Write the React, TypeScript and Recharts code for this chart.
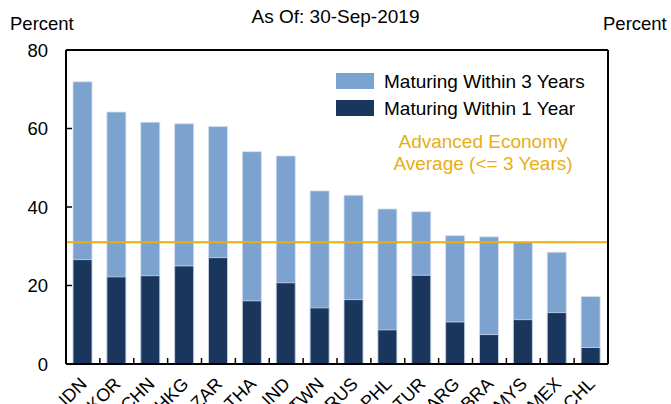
import { ComposedChart, Bar, XAxis, YAxis, ReferenceLine } from 'recharts';

const countries = ['IDN', 'KOR', 'CHN', 'HKG', 'ZAR', 'THA', 'IND', 'TWN', 'RUS', 'PHL', 'TUR', 'ARG', 'BRA', 'MYS', 'MEX', 'CHL'];
const within3Years = [71.9, 64.2, 61.6, 61.2, 60.5, 54.1, 53.0, 44.1, 43.0, 39.5, 38.8, 32.7, 32.4, 31.0, 28.5, 17.2];
const within1Year = [26.6, 22.2, 22.5, 25.0, 27.1, 16.1, 20.7, 14.3, 16.4, 8.7, 22.6, 10.7, 7.5, 11.3, 13.1, 4.2];
const advancedAverage = 31;
const yTicks = [0, 20, 40, 60, 80];

const data = countries.map((c, i) => ({ country: c, y3: within3Years[i], y1: within1Year[i] }));

const LIGHT = '#7CA2D0';
const DARK = '#1B365D';
const GOLD = '#E8AE14';
const FONT = '"Liberation Sans", Arial, sans-serif';

const W = 671;
const H = 404;
const LEFT_W = 66;
const RIGHT_W = 63;
const band = (W - LEFT_W - RIGHT_W) / countries.length;

const LeftTick = (props: any) => {
    const { x, y, payload } = props;
    return (
        <g>
            {payload.value > 0 && payload.value < 80 && (
                <line x1={x} x2={x + 6} y1={y} y2={y} stroke="#000" strokeWidth={1.5} />
            )}
            <text x={x - 18} y={y} dy="0.36em" textAnchor="end" fontSize={18.5} fill="#000" fontFamily={FONT}>
                {payload.value}
            </text>
        </g>
    );
};

const RightTick = (props: any) => {
    const { x, y, payload } = props;
    return (
        <text x={x + 16} y={y} dy="0.36em" textAnchor="start" fontSize={18.5} fill="#000" fontFamily={FONT}>
            {payload.value}
        </text>
    );
};

const CountryTick = (props: any) => {
    const { x, y, payload, index } = props;
    const tx = x + 5;
    const ty = y + 21;
    return (
        <g>
            {index < countries.length - 1 && (
                <line x1={x + band / 2} x2={x + band / 2} y1={y} y2={y - 6} stroke="#000" strokeWidth={1.5} />
            )}
            <g transform={`translate(${tx},${ty}) rotate(-45)`}>
                <text x={0} y={0} textAnchor="end" fontSize={18} fill="#000" fontFamily={FONT}>
                    {payload.value}
                </text>
            </g>
        </g>
    );
};

const LegendBox = () => (
    <div style={{ position: 'absolute', left: 336, top: 73, fontFamily: FONT, fontSize: 19, color: '#000', lineHeight: 1 }}>
        <div style={{ display: 'flex', alignItems: 'center', height: 16 }}>
            <span style={{ width: 38, height: 16, background: LIGHT, marginRight: 10, display: 'inline-block' }} />
            Maturing Within 3 Years
        </div>
        <div style={{ display: 'flex', alignItems: 'center', height: 16, marginTop: 11 }}>
            <span style={{ width: 38, height: 16, background: DARK, marginRight: 10, display: 'inline-block' }} />
            Maturing Within 1 Year
        </div>
        <div style={{ color: GOLD, textAlign: 'center', width: 294, marginTop: 15, lineHeight: '22px' }}>
            Advanced Economy
            <br />
            Average (&lt;= 3 Years)
        </div>
    </div>
);

const App = () => {
    return (
        <div style={{ position: 'relative', width: W, height: H, fontFamily: FONT }}>
            <style>{'body{margin:0}'}</style>
            <ComposedChart
                width={W}
                height={H}
                data={data}
                margin={{ top: 50, right: 0, bottom: 0, left: 0 }}
                barGap={-19}
                barSize={19}
            >
                <XAxis
                    dataKey="country"
                    height={40}
                    tickSize={0}
                    tickMargin={0}
                    interval={0}
                    tick={CountryTick}
                    axisLine={{ stroke: '#000', strokeWidth: 2 }}
                    tickLine={false}
                />
                <YAxis
                    yAxisId="left"
                    width={LEFT_W}
                    domain={[0, 80]}
                    ticks={yTicks}
                    tickSize={0}
                    tickMargin={0}
                    tick={LeftTick}
                    tickLine={false}
                    axisLine={{ stroke: '#000', strokeWidth: 2 }}
                />
                <YAxis
                    yAxisId="right"
                    orientation="right"
                    width={RIGHT_W}
                    domain={[0, 80]}
                    ticks={yTicks}
                    tickSize={0}
                    tickMargin={0}
                    tick={RightTick}
                    tickLine={false}
                    axisLine={{ stroke: '#000', strokeWidth: 2 }}
                />
                <Bar yAxisId="left" dataKey="y3" fill={LIGHT} stroke="#d3e0ef" strokeWidth={0.8} isAnimationActive={false} />
                <Bar yAxisId="left" dataKey="y1" fill={DARK} stroke="#d3e0ef" strokeWidth={0.8} isAnimationActive={false} />
                <ReferenceLine yAxisId="left" y={80} stroke="#000" strokeWidth={2} />
                <ReferenceLine yAxisId="left" y={advancedAverage} stroke={GOLD} strokeWidth={2} />
            </ComposedChart>
            <div style={{ position: 'absolute', left: 0, top: 6, width: W, textAlign: 'center', fontSize: 19 }}>
                As Of: 30-Sep-2019
            </div>
            <div style={{ position: 'absolute', left: 10, top: 13, fontSize: 18.5 }}>Percent</div>
            <div style={{ position: 'absolute', left: 603, top: 13, fontSize: 18.5 }}>Percent</div>
            <LegendBox />
        </div>
    );
};

export default App;
